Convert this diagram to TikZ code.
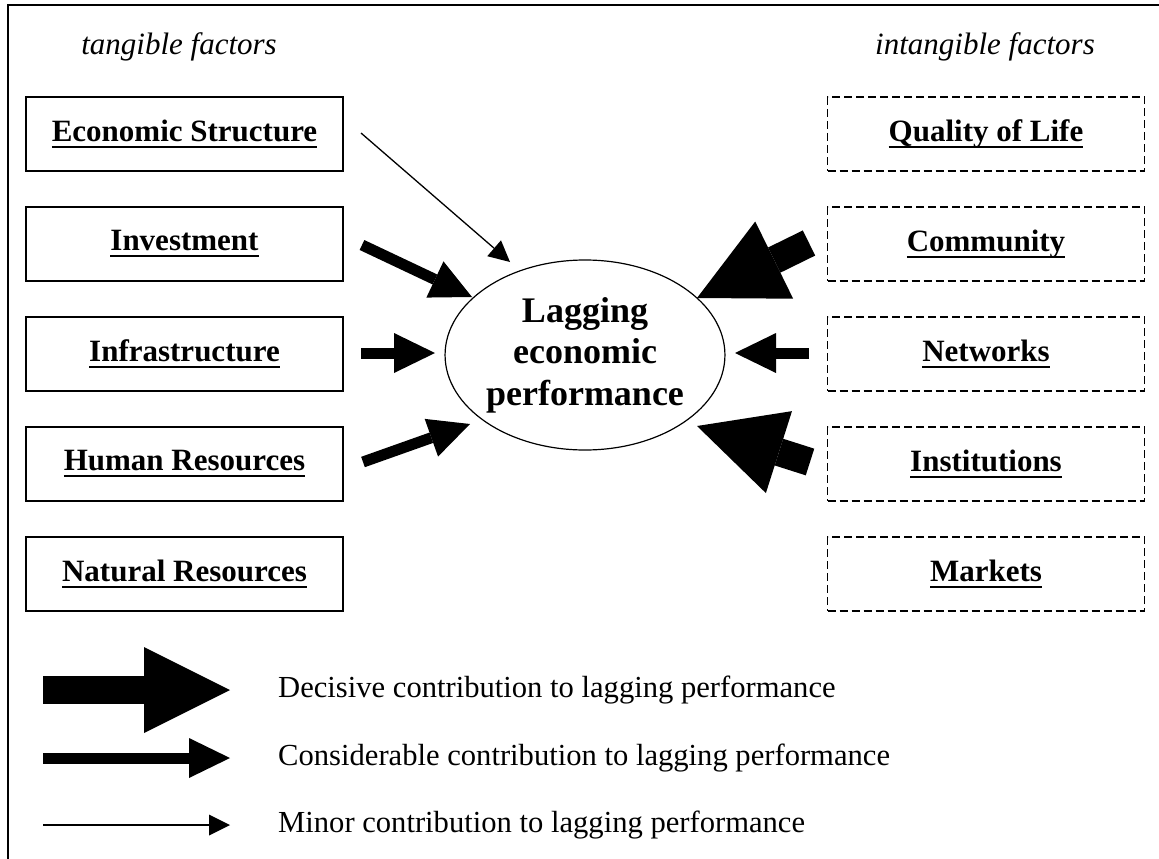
\documentclass[tikz,border=0pt]{standalone}
\usepackage{fontspec}
\setmainfont{Liberation Serif}
\usetikzlibrary{arrows.meta,shapes.geometric}
\newcommand\myul[1]{\setbox0\hbox{#1}\rlap{\rule[-6.5pt]{\wd0}{2pt}}\box0}
\begin{document}
\begin{tikzpicture}[x=1pt,y=-1pt,
 tbox/.style={draw, line width=1.3pt, minimum width=317pt, minimum height=74pt, inner sep=0pt, font=\fontsize{31}{36}\selectfont\bfseries},
 ibox/.style={tbox, dash pattern=on 8pt off 4pt, line width=1.8pt},
 minorarr/.style={line width=1.3pt, -{Triangle[length=21pt,width=21pt,line width=0pt]}},
 considarr/.style={line width=11pt, -{Triangle[length=41pt,width=40pt,line width=0pt]}},
 decisarr/.style={line width=28pt, -{Triangle[length=86pt,width=86pt,line width=0pt]}},
 lbl/.style={font=\fontsize{31}{36}\selectfont\itshape, inner sep=0pt},
 legtext/.style={font=\fontsize{30.6}{36}\selectfont, anchor=west, inner sep=0pt}]
\useasboundingbox (0,0) rectangle (1159,859);
\draw[line width=1.5pt] (8,859) -- (8,5) -- (1159,5);

\node[lbl] (tang) at (179,47) {tangible factors};
\node[lbl] (intang) at (985,47) {intangible factors};

\node[tbox] (es)   at (184.5,134) {\myul{Economic Structure}};
\node[tbox] (inv)  at (184.5,244) {\myul{Investment}};
\node[tbox] (inf)  at (184.5,354) {\myul{Infrastructure}};
\node[tbox] (hum)  at (184.5,464) {\myul{Human Resources}};
\node[tbox] (nat)  at (184.5,574) {\myul{Natural Resources}};

\node[ibox] (qol)  at (986,134) {\myul{Quality of Life}};
\node[ibox] (com)  at (986,244) {\myul{Community}};
\node[ibox] (net)  at (986,354) {\myul{Networks}};
\node[ibox] (ins)  at (986,464) {\myul{Institutions}};
\node[ibox] (mar)  at (986,574) {\myul{Markets}};

\node[draw, ellipse, line width=1.2pt, minimum width=262pt, minimum height=190pt, inner sep=0pt,
      align=center, font=\fontsize{36}{41.5}\selectfont\bfseries] (lag) at (585,355)
      {Lagging\\economic\\performance};

% arrow endpoints
\coordinate (esT) at (361,133);  \coordinate (esH) at (510,262);
\coordinate (invT) at (362,245); \coordinate (invH) at (472,297);
\coordinate (infT) at (361,353); \coordinate (infH) at (435,353);
\coordinate (humT) at (363,462); \coordinate (humH) at (470,424);
\coordinate (comT) at (809,243); \coordinate (comH) at (697,298);
\coordinate (netT) at (809,353); \coordinate (netH) at (735,353);
\coordinate (insT) at (810,462); \coordinate (insH) at (697,426);

\draw[minorarr] (esT) -- (esH);
\draw[considarr] (invT) -- (invH);
\draw[considarr] (infT) -- (infH);
\draw[considarr] (humT) -- (humH);
\draw[decisarr] (comT) -- (comH);
\draw[considarr] (netT) -- (netH);
\draw[decisarr] (insT) -- (insH);

% legend
\coordinate (l1T) at (43,690); \coordinate (l1H) at (230,690);
\coordinate (l2T) at (43,758); \coordinate (l2H) at (230,758);
\coordinate (l3T) at (43,825); \coordinate (l3H) at (230,825);
\draw[decisarr] (l1T) -- (l1H);
\draw[considarr] (l2T) -- (l2H);
\draw[minorarr] (l3T) -- (l3H);
\node[legtext] (t1) at (278,690) {Decisive contribution to lagging performance};
\node[legtext] (t2) at (278,758) {Considerable contribution to lagging performance};
\node[legtext] (t3) at (278,825) {Minor contribution to lagging performance};
\end{tikzpicture}
\end{document}
